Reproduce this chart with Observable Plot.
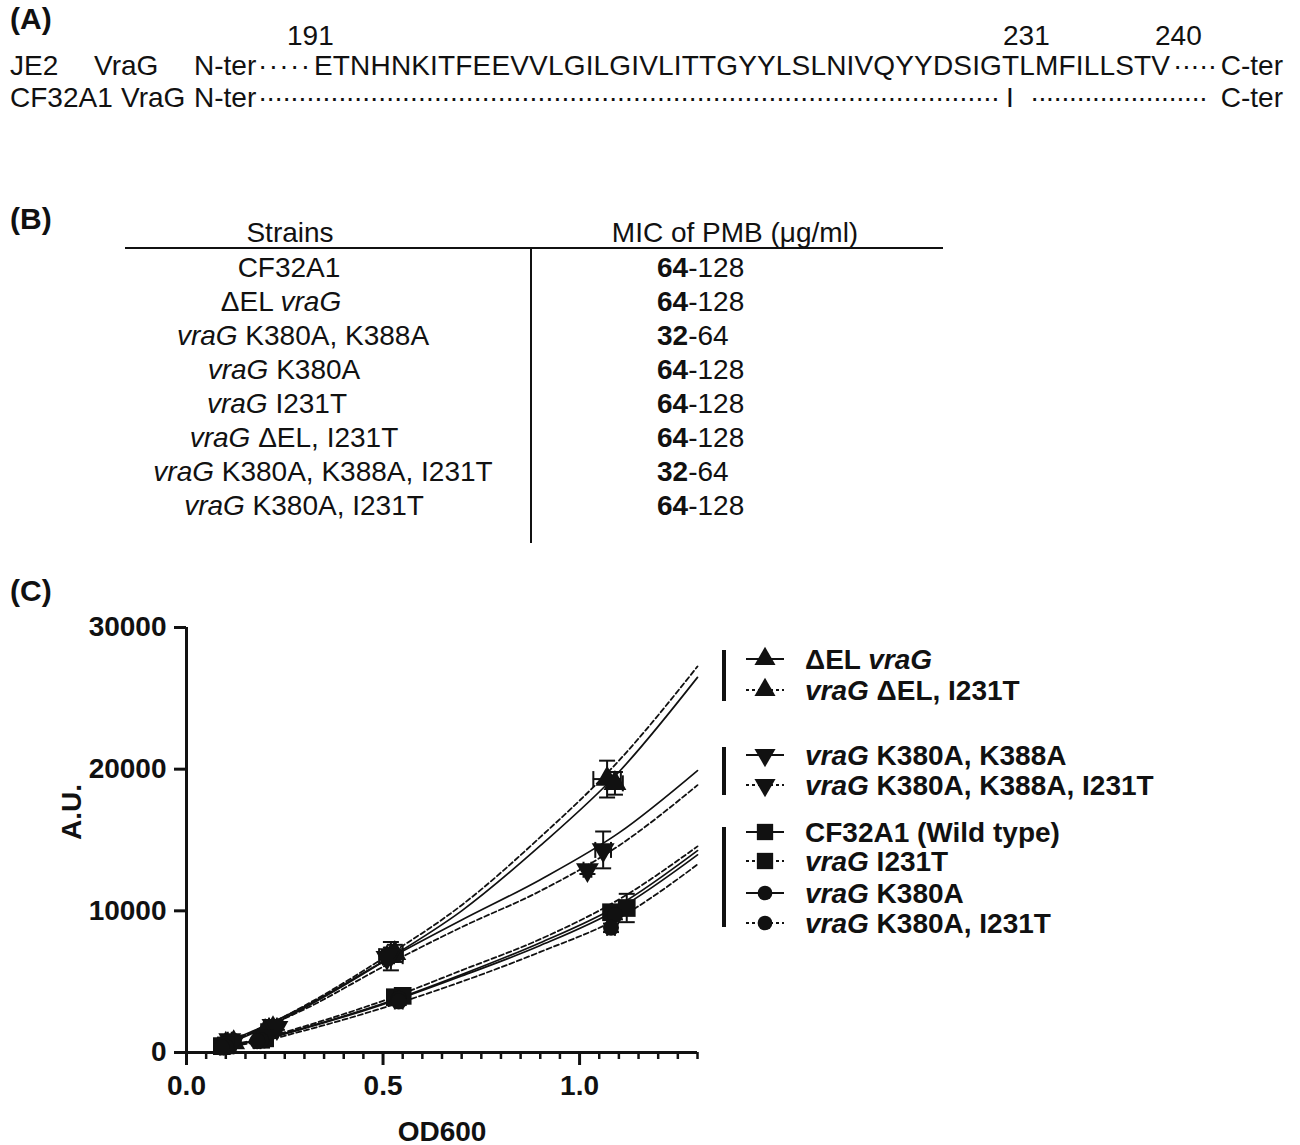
<!DOCTYPE html>
<html>
<head>
<meta charset="utf-8">
<script src="https://cdn.jsdelivr.net/npm/d3@7"></script>
<script src="https://cdn.jsdelivr.net/npm/@observablehq/plot@0.6"></script>
<style>
  body { margin: 0; background: #fff; }
  #page { position: relative; width: 1300px; height: 1145px; overflow: hidden; background: #fff; }
  #overlay { position: absolute; left: 0; top: 0; }
  #overlay text, #overlay tspan { white-space: pre; }
  #chart { position: absolute; left: 0; top: 590px; }
  #chart svg { overflow: visible; }
</style>
</head>
<body>
<div id="page"><div id="chart"></div></div>
<script>
// ================= DATA =================
// Panel A: sequence alignment
const seqJE2 = "ETNHNKITFEEVVLGILGIVLITTGYYLSLNIVQYYDSIGTLMFILLSTV";
const seqPositions = ["191", "231", "240"];
const cf32Residue = "I";

// Panel B: MIC table
const strains = ["CF32A1", "ΔEL vraG", "vraG K380A, K388A", "vraG K380A", "vraG I231T",
                 "vraG ΔEL, I231T", "vraG K380A, K388A, I231T", "vraG K380A, I231T"];
const micLow = [64, 64, 32, 64, 64, 64, 32, 64];
const micHigh = [128, 128, 64, 128, 128, 128, 64, 128];

// Panel C: series
const seriesNames = ["ΔEL vraG", "vraG ΔEL, I231T", "vraG K380A, K388A", "vraG K380A, K388A, I231T",
                     "CF32A1 (Wild type)", "vraG I231T", "vraG K380A", "vraG K380A, I231T"];
const seriesSymbol = ["up", "up", "down", "down", "square", "square", "circle", "circle"];
const seriesDashed = [false, true, false, true, false, true, false, true];

// measured points (OD600, A.U.) with SD
const odMean = [
  [0.10, 0.20, 0.52, 1.07],
  [0.12, 0.22, 0.53, 1.09],
  [0.11, 0.22, 0.52, 1.06],
  [0.12, 0.23, 0.51, 1.02],
  [0.09, 0.19, 0.53, 1.08],
  [0.10, 0.20, 0.55, 1.12],
  [0.10, 0.19, 0.54, 1.09],
  [0.09, 0.18, 0.54, 1.08]
];
const auMean = [
  [600, 1500, 6800, 19300],
  [700, 1700, 7000, 19000],
  [900, 1900, 6900, 14300],
  [800, 1750, 6700, 12900],
  [450, 900, 3900, 9900],
  [500, 1000, 4000, 10200],
  [400, 850, 3800, 9700],
  [350, 800, 3600, 8800]
];
const odSD = [
  [0.005, 0.01, 0.03, 0.035],
  [0.005, 0.01, 0.02, 0.02],
  [0.005, 0.01, 0.015, 0.02],
  [0.005, 0.01, 0.01, 0.01],
  [0.005, 0.008, 0.01, 0.01],
  [0.005, 0.01, 0.015, 0.015],
  [0.005, 0.008, 0.01, 0.01],
  [0.005, 0.008, 0.01, 0.01]
];
const auSD = [
  [60, 150, 1000, 1300],
  [80, 200, 600, 800],
  [100, 200, 500, 1300],
  [80, 150, 400, 300],
  [50, 100, 300, 500],
  [60, 120, 400, 1000],
  [50, 100, 300, 300],
  [40, 80, 250, 300]
];

// fitted growth curves
const fitOD = [0.1, 0.2, 0.3, 0.5, 0.7, 0.9, 1.1, 1.3];
const fitAU = [
  [550, 1750, 3150, 6400, 10000, 14600, 19800, 26480],
  [600, 1850, 3300, 6650, 10400, 15200, 20600, 27250],
  [700, 1900, 3250, 6400, 9350, 12200, 15500, 19900],
  [650, 1800, 3050, 6050, 8850, 11400, 14600, 18870],
  [450, 1000, 1750, 3450, 5500, 7750, 10400, 14250],
  [480, 1050, 1850, 3650, 5800, 8000, 10800, 14550],
  [430, 950, 1700, 3400, 5400, 7550, 10150, 13950],
  [400, 850, 1550, 3150, 5000, 7100, 9500, 13270]
];

const xMajorTicks = [0, 0.5, 1.0];
const xMinorTicks = [0.05, 0.1, 0.15, 0.2, 0.25, 0.3, 0.35, 0.4, 0.45, 0.55, 0.6, 0.65, 0.7, 0.75, 0.8, 0.85, 0.9, 0.95, 1.05, 1.1, 1.15, 1.2, 1.25, 1.3];
const yTicks = [0, 10000, 20000, 30000];

// ================= LAYOUT / STYLE =================
const FONT = '"Liberation Sans", Arial, Helvetica, sans-serif';
const INK = "#111";
const W = 1300, H = 1145;

const page = d3.select("#page");
const svg = page.insert("svg", "#chart").attr("id", "overlay")
  .attr("width", W).attr("height", H)
  .style("font-family", FONT).attr("fill", INK);

function dots(g, x, y, len, n) {
  g.append("text").attr("x", x).attr("y", y)
    .attr("textLength", len).attr("lengthAdjust", "spacing")
    .text("·".repeat(n));
}

// ---------- Panel A ----------
const gA = svg.append("g").attr("font-size", 28);
gA.append("text").attr("x", 10).attr("y", 29).attr("font-weight", "bold").attr("font-size", 30).text("(A)");
const posX = [287, 1003, 1155];
seqPositions.forEach((p, i) => gA.append("text").attr("x", posX[i]).attr("y", 45).text(p));
const r1 = 75, r2 = 107;
gA.append("text").attr("x", 10).attr("y", r1).text("JE2");
gA.append("text").attr("x", 94).attr("y", r1).text("VraG");
gA.append("text").attr("x", 194).attr("y", r1).text("N-ter");
dots(gA, 258, r1, 52, 5);
gA.append("text").attr("x", 314).attr("y", r1).attr("textLength", 856).attr("lengthAdjust", "spacing").text(seqJE2);
dots(gA, 1173, r1, 44, 5);
gA.append("text").attr("x", 1283).attr("y", r1).attr("text-anchor", "end").text("C-ter");
gA.append("text").attr("x", 10).attr("y", r2).text("CF32A1");
gA.append("text").attr("x", 121).attr("y", r2).text("VraG");
gA.append("text").attr("x", 194).attr("y", r2).text("N-ter");
dots(gA, 258, r2, 742, 93);
gA.append("text").attr("x", 1006).attr("y", r2).text(cf32Residue);
dots(gA, 1030, r2, 178, 23);
gA.append("text").attr("x", 1283).attr("y", r2).attr("text-anchor", "end").text("C-ter");

// ---------- Panel B ----------
const gB = svg.append("g").attr("font-size", 28);
gB.append("text").attr("x", 10).attr("y", 229).attr("font-weight", "bold").attr("font-size", 30).text("(B)");
gB.append("text").attr("x", 290).attr("y", 242).attr("text-anchor", "middle").text("Strains");
gB.append("text").attr("x", 735).attr("y", 242).attr("text-anchor", "middle").text("MIC of PMB (μg/ml)");
gB.append("line").attr("x1", 125).attr("x2", 943).attr("y1", 248).attr("y2", 248).attr("stroke", INK).attr("stroke-width", 2);
gB.append("line").attr("x1", 531).attr("x2", 531).attr("y1", 248).attr("y2", 543).attr("stroke", INK).attr("stroke-width", 2);
const rowY0 = 277, rowStep = 34;
const strainCx = [289, 281, 303, 284, 277, 294, 323, 304];
strains.forEach((s, i) => {
  const t = gB.append("text").attr("x", strainCx[i]).attr("y", rowY0 + i * rowStep).attr("text-anchor", "middle");
  s.split(/(vraG)/).filter(p => p).forEach(p => {
    const ts = t.append("tspan").text(p);
    if (p === "vraG") ts.attr("font-style", "italic");
  });
  const m = gB.append("text").attr("x", 657).attr("y", rowY0 + i * rowStep);
  m.append("tspan").attr("font-weight", "bold").text(String(micLow[i]));
  m.append("tspan").text("-" + micHigh[i]);
});

// ---------- Panel C label + legend ----------
svg.append("text").attr("x", 10).attr("y", 601).attr("font-weight", "bold").attr("font-size", 30).text("(C)");

const capH = { draw(ctx, size) { const r = Math.sqrt(size / Math.PI); ctx.moveTo(-r, 0); ctx.lineTo(r, 0); } };
const capV = { draw(ctx, size) { const r = Math.sqrt(size / Math.PI); ctx.moveTo(0, -r); ctx.lineTo(0, r); } };
const triDown = { draw(ctx, size) {
  const s3 = Math.sqrt(3), y = -Math.sqrt(size / (s3 * 3));
  ctx.moveTo(0, -2 * y); ctx.lineTo(-s3 * y, y); ctx.lineTo(s3 * y, y); ctx.closePath();
} };
const symR = { up: 8.5, down: 8.5, square: 10, circle: 8 };
const symObj = { up: d3.symbolTriangle, down: triDown, square: d3.symbolSquare, circle: d3.symbolCircle };

const gL = svg.append("g").attr("font-size", 28).attr("font-weight", "bold");
const legendRowY = [659, 690, 755, 785, 832, 861, 893, 923];
const legendBars = [[650, 701], [747, 795], [827, 927]];
legendBars.forEach(([a, b]) => gL.append("rect").attr("x", 722).attr("y", a).attr("width", 4).attr("height", b - a).attr("fill", INK));
seriesNames.forEach((name, i) => {
  const y = legendRowY[i];
  gL.append("line").attr("x1", 746).attr("x2", 784).attr("y1", y).attr("y2", y)
    .attr("stroke", INK).attr("stroke-width", 1.8)
    .attr("stroke-dasharray", seriesDashed[i] ? "3,3" : null);
  const k = seriesSymbol[i];
  const r = symR[k] * 0.92;
  gL.append("path").attr("transform", `translate(765,${y})`)
    .attr("d", d3.symbol(symObj[k], Math.PI * r * r)()).attr("fill", INK);
  const t = gL.append("text").attr("x", 805).attr("y", y + 10);
  name.split(/(vraG)/).filter(p => p).forEach(p => {
    const ts = t.append("tspan").text(p);
    if (p === "vraG") ts.attr("font-style", "italic");
  });
});

// ---------- Panel C chart (Observable Plot) ----------
const points = [];
seriesNames.forEach((name, i) => odMean[i].forEach((x, j) => points.push({
  series: name, sym: seriesSymbol[i], od: x, au: auMean[i][j], sdx: odSD[i][j], sdy: auSD[i][j]
})));
const fits = [];
seriesNames.forEach((name, i) => fitOD.forEach((x, j) => fits.push({
  series: name, dashed: seriesDashed[i], od: x, au: fitAU[i][j]
})));

const dotMarks = ["up", "down", "square", "circle"].map(k => Plot.dot(points.filter(d => d.sym === k), {
  x: "od", y: "au", symbol: symObj[k], r: symR[k], fill: INK, stroke: "none"
}));

const chart = Plot.plot({
  width: 720, height: 555,
  marginLeft: 186, marginRight: 23, marginTop: 37, marginBottom: 93,
  x: { domain: [0, 1.3] },
  y: { domain: [0, 30000] },
  style: { fontFamily: FONT, fontSize: "28px", fontWeight: "bold", color: INK, background: "transparent", overflow: "visible" },
  marks: [
    Plot.line(fits.filter(d => !d.dashed), { x: "od", y: "au", z: "series", stroke: INK, strokeWidth: 1.7, curve: "monotone-x" }),
    Plot.line(fits.filter(d => d.dashed), { x: "od", y: "au", z: "series", stroke: INK, strokeWidth: 1.8, strokeDasharray: "5,3", curve: "monotone-x" }),
    Plot.ruleX(points, { x: "od", y1: d => d.au - d.sdy, y2: d => d.au + d.sdy, stroke: INK, strokeWidth: 2 }),
    Plot.dot(points, { x: "od", y: d => d.au + d.sdy, symbol: capH, r: 8, stroke: INK, strokeWidth: 2, fill: "none" }),
    Plot.dot(points, { x: "od", y: d => d.au - d.sdy, symbol: capH, r: 8, stroke: INK, strokeWidth: 2, fill: "none" }),
    Plot.ruleY(points, { y: "au", x1: d => d.od - d.sdx, x2: d => d.od + d.sdx, stroke: INK, strokeWidth: 2 }),
    Plot.dot(points, { x: d => d.od - d.sdx, y: "au", symbol: capV, r: 8, stroke: INK, strokeWidth: 2, fill: "none" }),
    Plot.dot(points, { x: d => d.od + d.sdx, y: "au", symbol: capV, r: 8, stroke: INK, strokeWidth: 2, fill: "none" }),
    ...dotMarks,
    Plot.ruleX([0], { stroke: INK, strokeWidth: 3 }),
    Plot.ruleY([0], { stroke: INK, strokeWidth: 3 }),
    Plot.axisY({ ticks: yTicks, tickSize: 12, tickPadding: 8, strokeWidth: 3, tickFormat: d => String(d), label: null }),
    Plot.axisX({ ticks: xMajorTicks, tickSize: 13, tickPadding: 10, strokeWidth: 3, tickFormat: d3.format(".1f"), label: null }),
    Plot.axisX({ ticks: xMinorTicks, tickSize: 7, strokeWidth: 2.5, fill: "none", label: null }),
    Plot.text(["A.U."], { frameAnchor: "left", dx: -114, rotate: -90, text: d => d, fill: INK }),
    Plot.text(["OD600"], { frameAnchor: "bottom", dy: 88, text: d => d, fill: INK })
  ]
});
document.getElementById("chart").appendChild(chart);
</script>
</body>
</html>
